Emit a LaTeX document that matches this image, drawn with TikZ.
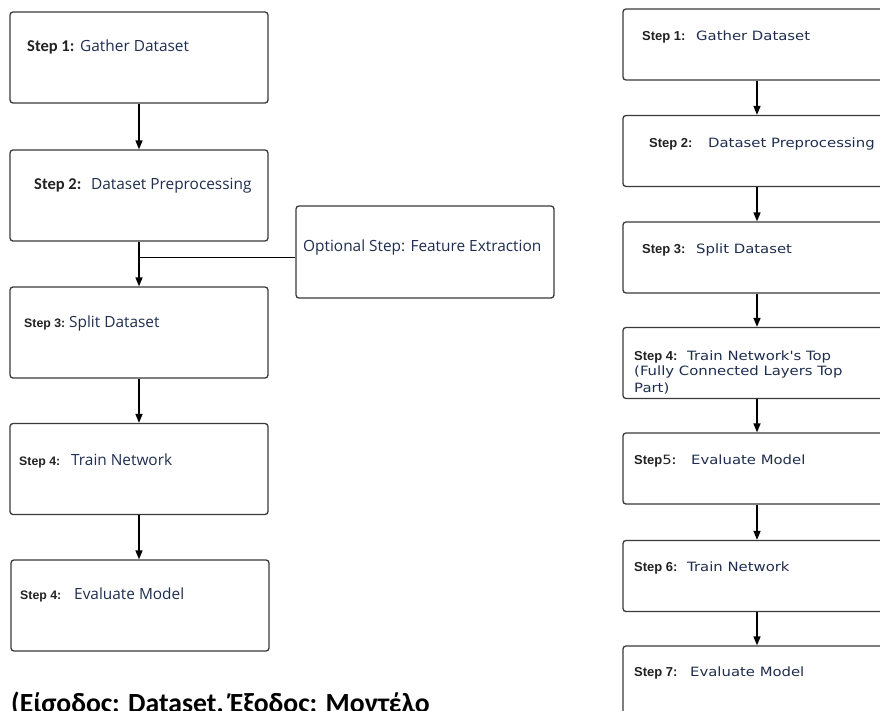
\documentclass[tikz,border=0pt]{standalone}
\usepackage{fontspec}
\setmainfont{Open Sans}
\newfontfamily\calfont{Carlito}
\newfontfamily\arialfont{Liberation Sans}
\newfontfamily\verdfont[FakeStretch=1.16]{DejaVu Sans}
\usetikzlibrary{arrows.meta}
\definecolor{boxline}{HTML}{3A3A3A}
\definecolor{navytext}{HTML}{1F2E4F}
\definecolor{labeltext}{HTML}{222222}
\tikzset{
  stepbox/.style={draw=boxline, line width=1.3pt, rounded corners=3pt,
    inner sep=0pt, fill=white},
  leftbox/.style={stepbox, minimum width=258pt, minimum height=91pt},
  rightbox/.style={stepbox, minimum width=268pt, minimum height=71pt},
  flow/.style={draw=black, line width=1.5pt,
    -{Triangle[length=9pt,width=7pt]}},
  lbl/.style={anchor=base west, inner sep=0pt, text=labeltext,
    font=\arialfont\bfseries\fontsize{12.3}{14}\selectfont},
  lblc/.style={anchor=base west, inner sep=0pt, text=labeltext,
    font=\calfont\bfseries\fontsize{16.5}{18}\selectfont},
  ltxt/.style={anchor=base west, inner sep=0pt, text=navytext,
    font=\fontsize{15.4}{17}\selectfont},
  rlbl/.style={anchor=base west, inner sep=0pt, text=labeltext,
    font=\arialfont\bfseries\fontsize{13}{15}\selectfont},
  rtxt/.style={anchor=base west, inner sep=0pt, text=navytext,
    font=\verdfont\fontsize{12.8}{16.5}\selectfont},
}
\begin{document}
\begin{tikzpicture}[x=1pt,y=-1pt]
\useasboundingbox (0,0) rectangle (880,710);
\clip (0,0) rectangle (880,710);
\fill[white] (0,0) rectangle (880,710);

% ---- left pipeline ----
\node[leftbox] (L1) at (139,57.5) {};
\node[leftbox] (L2) at (139,195.5) {};
\node[leftbox] (L3) at (139,332.5) {};
\node[leftbox] (L4) at (139,469) {};
\node[leftbox] (L5) at (140,605.5) {};
\node[leftbox, minimum height=92pt] (OPT) at (425,252) {};

\draw[flow] (L1.south) -- (L2.north);
\draw[flow] (L2.south) -- (L3.north);
\draw[flow] (L3.south) -- (L4.north);
\draw[flow] (L4.south) -- (L4.south |- L5.north);
\coordinate (J) at (139,257);
\draw[line width=1pt] (OPT.west |- J) -- (J);

\node[lblc] (L1a) at (27,51) {Step 1:};
\node[ltxt] (L1b) at (80,51) {Gather Dataset};
\node[lblc] (L2a) at (34,189) {Step 2:};
\node[ltxt] (L2b) at (91,189) {Dataset Preprocessing};
\node[lbl] (L3a) at (24,327) {Step 3:};
\node[ltxt] (L3b) at (69,327) {Split Dataset};
\node[lbl] (L4a) at (19,465) {Step 4:};
\node[ltxt] (L4b) at (71,465) {Train Network};
\node[lbl] (L5a) at (20,599) {Step 4:};
\node[ltxt] (L5b) at (74,599) {Evaluate Model};
\node[ltxt] (OPTt) at (303,251) {Optional Step: Feature Extraction};

% ---- right pipeline ----
\node[rightbox] (R1) at (757,44.5) {};
\node[rightbox] (R2) at (757,151) {};
\node[rightbox] (R3) at (757,257.5) {};
\node[rightbox] (R4) at (757,363) {};
\node[rightbox] (R5) at (757,468.5) {};
\node[rightbox] (R6) at (757,576) {};
\node[rightbox] (R7) at (757,681.5) {};

\foreach \a/\b in {R1/R2,R2/R3,R3/R4,R4/R5,R5/R6,R6/R7}
  \draw[flow] (\a.south) -- (\b.north);

\node[rlbl] (R1a) at (642,40) {Step 1:};
\node[rtxt] (R1b) at (696,40) {Gather Dataset};
\node[rlbl] (R2a) at (649,147) {Step 2:};
\node[rtxt] (R2b) at (708,147) {Dataset Preprocessing};
\node[rlbl] (R3a) at (642,253) {Step 3:};
\node[rtxt] (R3b) at (696,253) {Split Dataset};
\node[rlbl] (R4a) at (634,360) {Step 4:};
\node[rtxt] (R4b) at (687,360) {Train Network's Top};
\node[rtxt, align=left, anchor=north west] (R4c) at (634,366)
  {(Fully Connected Layers Top\\Part)};
\node[rlbl] (R5a) at (634,464) {Step{\mdseries\verdfont\fontsize{12.8}{14}\selectfont 5}:};
\node[rtxt] (R5b) at (691,464) {Evaluate Model};
\node[rlbl] (R6a) at (634,571) {Step 6:};
\node[rtxt] (R6b) at (687,571) {Train Network};
\node[rlbl] (R7a) at (634,676) {Step 7:};
\node[rtxt] (R7b) at (690,676) {Evaluate Model};

% ---- caption line ----
\node[anchor=base west, inner sep=0pt, text=black,
  font=\calfont\bfseries\fontsize{27.7}{30}\selectfont] (CAP) at (11,712)
  {(Είσοδος: Dataset, Έξοδος: Μοντέλο};
\end{tikzpicture}
\end{document}
